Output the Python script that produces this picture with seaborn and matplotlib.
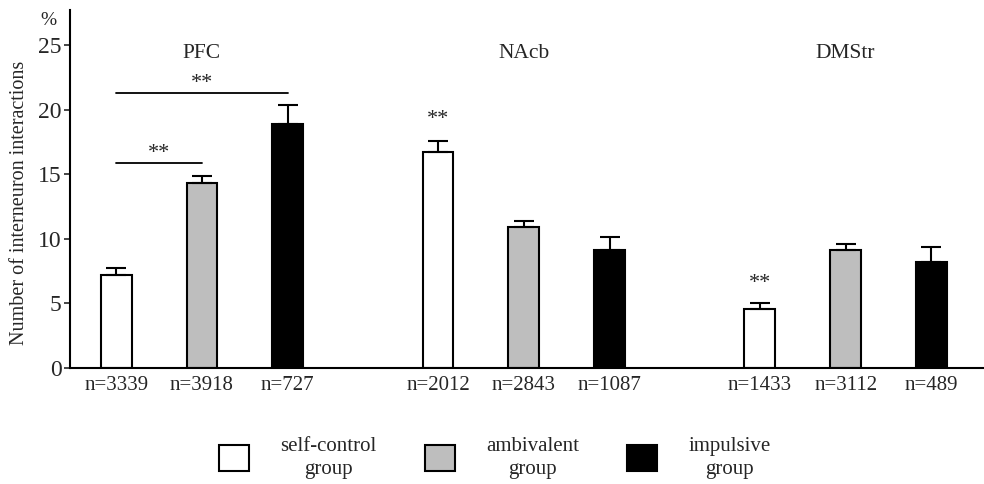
import matplotlib
matplotlib.use("Agg")
import matplotlib.pyplot as plt
from matplotlib.patches import Patch
import seaborn as sns
import pandas as pd
import numpy as np

# ---- data ----
regions = ["PFC", "NAcb", "DMStr"]
groups = ["self-control\ngroup", "ambivalent\ngroup", "impulsive\ngroup"]
# values per region (order: self-control, ambivalent, impulsive)
pfc_values = [7.2, 14.3, 18.85]
nacb_values = [16.7, 10.9, 9.1]
dmstr_values = [4.55, 9.1, 8.2]
pfc_err = [0.5, 0.55, 1.5]
nacb_err = [0.9, 0.5, 1.0]
dmstr_err = [0.5, 0.5, 1.2]
pfc_n = ["n=3339", "n=3918", "n=727"]
nacb_n = ["n=2012", "n=2843", "n=1087"]
dmstr_n = ["n=1433", "n=3112", "n=489"]
colors = ["white", "#bebebe", "black"]
yticks = [0, 5, 10, 15, 20, 25]

values = [pfc_values, nacb_values, dmstr_values]
errs = [pfc_err, nacb_err, dmstr_err]
nlabels = [pfc_n, nacb_n, dmstr_n]

rows = []
for r, vals in zip(regions, values):
    for g, v in zip(groups, vals):
        rows.append({"region": r, "group": g, "value": v})
df = pd.DataFrame(rows)

sns.set_style("white")
plt.rcParams["font.family"] = ["Liberation Serif", "DejaVu Serif"]

fig = plt.figure(figsize=(9.84, 4.84), dpi=100)
ax = fig.add_axes([70 / 984, 116 / 484, 1 - 70 / 984, 358 / 484])

sns.barplot(data=df, x="region", y="value", hue="group", order=regions,
            hue_order=groups, palette=colors, edgecolor="black",
            linewidth=1.5, gap=0.64, legend=False, ax=ax, errorbar=None)

ax.set_xlim(-0.41, 2.43)
ax.set_ylim(0, 27.7)
ax.set_yticks(yticks)
ax.set_yticklabels([str(t) for t in yticks], fontsize=17)
ax.tick_params(axis="y", direction="out", length=4, width=1.2, pad=2, left=True)
ax.tick_params(axis="x", bottom=False, labelbottom=False)
ax.set_xlabel("")
ax.set_ylabel("Number of interneuron interactions", fontsize=14.5)
ax.yaxis.set_label_coords(-0.045, 0.46)
for s in ["top", "right"]:
    ax.spines[s].set_visible(False)
for s in ["left", "bottom"]:
    ax.spines[s].set_linewidth(1.5)
    ax.spines[s].set_color("black")

# bar centers from the library's patches
bars = sorted(ax.patches, key=lambda p: p.get_x())
centers = [p.get_x() + p.get_width() / 2 for p in bars]
flat_vals = [v for vals in values for v in vals]
flat_err = [e for es in errs for e in es]
flat_n = [n for ns in nlabels for n in ns]

ax.errorbar(centers, flat_vals, yerr=[np.zeros(len(flat_err)), flat_err],
            fmt="none", ecolor="black", elinewidth=1.5, capsize=7.2,
            capthick=1.5, zorder=1)

trans = ax.get_xaxis_transform()
for c, n in zip(centers, flat_n):
    ax.text(c, -0.05, n, ha="center", va="center", fontsize=15,
            transform=trans)

for i, r in enumerate(regions):
    ax.text(i, 24.3, r, ha="center", va="center", fontsize=15.5)

# significance marks
ax.plot([centers[0], centers[2]], [21.3, 21.3], color="black", lw=1.3)
ax.text((centers[0] + centers[2]) / 2, 22.0, "**", ha="center", va="center", fontsize=16)
ax.plot([centers[0], centers[1]], [15.9, 15.9], color="black", lw=1.3)
ax.text((centers[0] + centers[1]) / 2, 16.6, "**", ha="center", va="center", fontsize=16)
ax.text(centers[3], 19.2, "**", ha="center", va="center", fontsize=16)
ax.text(centers[6], 6.5, "**", ha="center", va="center", fontsize=16)

ax.text(-0.024, 26.9, "%", transform=ax.get_yaxis_transform(), ha="center",
        va="center", fontsize=14)

handles = [Patch(facecolor=c, edgecolor="black", linewidth=1.5) for c in colors]
leg = fig.legend(handles, groups, ncol=3, loc="center", bbox_to_anchor=(495 / 984, 1 - 458 / 484),
                 frameon=False, fontsize=15, handlelength=1.45, handleheight=1.5,
                 handletextpad=1.5, columnspacing=2.3)
for t in leg.get_texts():
    t.set_multialignment("center")
    t.set_linespacing(1.3)

fig.savefig("out.png", dpi=100)
